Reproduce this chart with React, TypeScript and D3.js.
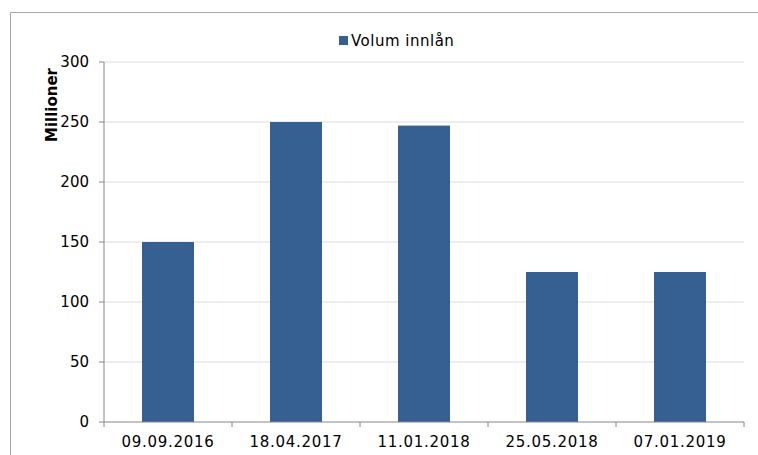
import * as d3 from "d3";
import React from "react";

const categories = ["09.09.2016", "18.04.2017", "11.01.2018", "25.05.2018", "07.01.2019"];
const volumes = [150, 250, 247, 125, 125];
const yTicks = [0, 50, 100, 150, 200, 250, 300];
const seriesName = "Volum innlån";
const yTitle = "Millioner";

const W = 758;
const H = 455;
const plot = { left: 104, right: 744, top: 62, bottom: 422 };
const font = "Verdana, 'DejaVu Sans', sans-serif";
const barColor = "#366092";

export default function App() {
  const x = d3.scaleBand()
    .domain(categories)
    .range([plot.left, plot.right])
    .paddingInner(0.594)
    .paddingOuter(0.297);
  const y = d3.scaleLinear().domain([0, 300]).range([plot.bottom, plot.top]);
  const step = x.step();
  const bounds = d3.range(categories.length + 1).map((i) => plot.left + i * step);

  return (
    <svg width={W} height={H} style={{ position: "absolute", left: 0, top: 0 }}>
      {/* outer frame, cut off at right and bottom */}
      <path d={`M10.5,${H} V12.5 H${W}`} fill="none" stroke="#a6a6a6" strokeWidth={1} />

      {yTicks.map((t) => (
        <g key={t}>
          {t > 0 && (
            <line x1={plot.left} x2={plot.right} y1={y(t)} y2={y(t)} stroke="#dcdcdc" strokeWidth={1} />
          )}
          <line x1={plot.left - 5} x2={plot.left} y1={y(t)} y2={y(t)} stroke="#868686" />
          <text x={plot.left - 15} y={y(t)} dy="0.36em" textAnchor="end" fontSize={15} fontFamily={font} fill="#000">
            {t}
          </text>
        </g>
      ))}

      {categories.map((c, i) => (
        <rect key={c} x={x(c)} y={y(volumes[i])} width={x.bandwidth()} height={y(0) - y(volumes[i])} fill={barColor} />
      ))}

      <line x1={plot.left} x2={plot.left} y1={plot.top} y2={plot.bottom} stroke="#868686" />
      <line x1={plot.left} x2={plot.right} y1={plot.bottom} y2={plot.bottom} stroke="#868686" />
      {bounds.map((b, i) => (
        <line key={i} x1={b} x2={b} y1={plot.bottom} y2={plot.bottom + 5} stroke="#868686" />
      ))}
      {categories.map((c) => (
        <text key={c} x={(x(c) ?? 0) + x.bandwidth() / 2} y={plot.bottom + 25} textAnchor="middle" fontSize={15} letterSpacing={0.7} fontFamily={font} fill="#000">
          {c}
        </text>
      ))}

      <text transform="translate(57,105) rotate(-90)" textAnchor="middle" fontSize={15} fontWeight="bold" fontFamily={font}>
        {yTitle}
      </text>

      <rect x={339} y={36} width={9} height={9} fill={barColor} />
      <text x={351} y={46} fontSize={15} letterSpacing={0.5} fontFamily={font} fill="#000">{seriesName}</text>
    </svg>
  );
}
